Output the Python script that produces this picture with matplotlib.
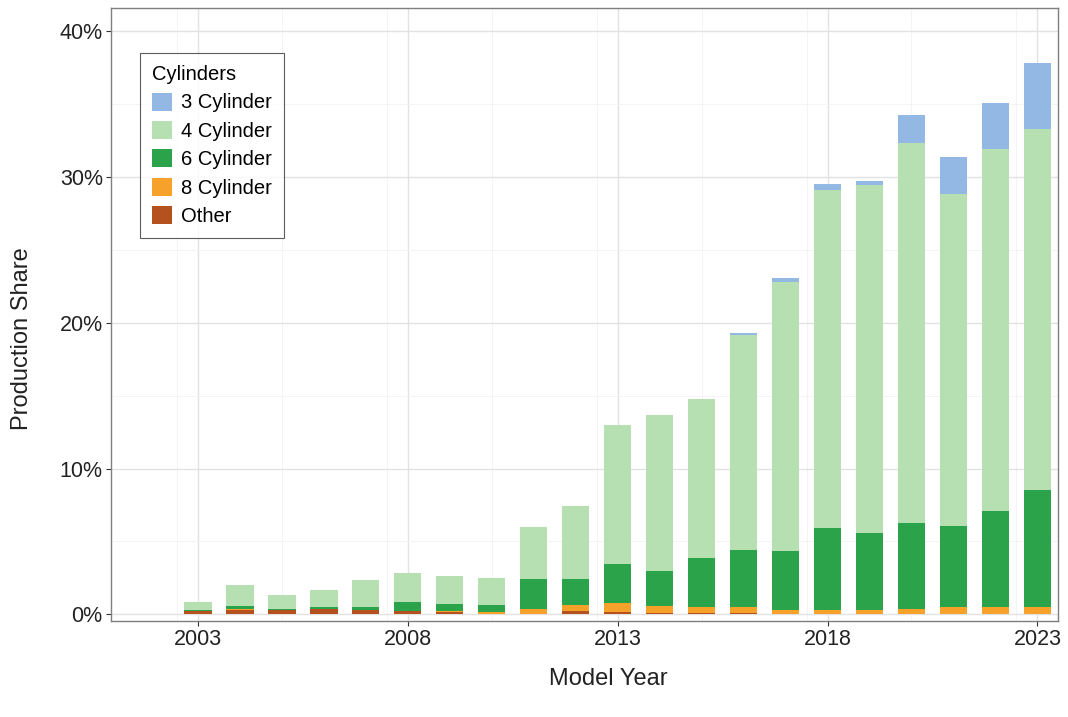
import matplotlib
matplotlib.use('Agg')
import matplotlib.pyplot as plt
import numpy as np
from matplotlib.ticker import FuncFormatter, MultipleLocator

plt.rcParams['font.family'] = ['Liberation Sans', 'DejaVu Sans']

# 数据 (百分比)
years = list(range(2003, 2024))
other = [0.20, 0.30, 0.28, 0.35, 0.28, 0.20, 0.13, 0.05, 0.05, 0.26, 0.15,
         0.10, 0.08, 0.08, 0.03, 0.02, 0.02, 0.02, 0.02, 0.02, 0.02]
cyl8 = [0.02, 0.05, 0.05, 0.03, 0.02, 0.05, 0.13, 0.10, 0.33, 0.39, 0.60,
        0.50, 0.45, 0.45, 0.27, 0.28, 0.28, 0.34, 0.51, 0.51, 0.51]
cyl6 = [0.08, 0.25, 0.05, 0.12, 0.23, 0.63, 0.46, 0.50, 2.03, 1.76, 2.69,
        2.38, 3.32, 3.89, 4.06, 5.60, 5.30, 5.94, 5.52, 6.57, 7.97]
cyl4 = [0.55, 1.40, 0.97, 1.15, 1.83, 1.95, 1.88, 1.83, 3.59, 4.99, 9.53,
        10.72, 10.90, 14.73, 18.44, 23.20, 23.85, 26.05, 22.75, 24.80, 24.80]
cyl3 = [0, 0, 0, 0, 0, 0, 0, 0, 0, 0, 0,
        0, 0, 0.15, 0.25, 0.40, 0.30, 1.90, 2.56, 3.15, 4.55]

labels = ['Other', '8 Cylinder', '6 Cylinder', '4 Cylinder', '3 Cylinder']
series = [other, cyl8, cyl6, cyl4, cyl3]
colors = ['#b4511f', '#f6a22a', '#2ba34b', '#b6dfb2', '#93b8e3']

fig = plt.figure(figsize=(10.68, 7.17), dpi=100)
ax = fig.add_axes([0.104, 0.134, 0.887, 0.855])

bottom = np.zeros(len(years))
handles = {}
for lab, vals, col in zip(labels, series, colors):
    vals = np.array(vals)
    b = ax.bar(years, vals, bottom=bottom, width=0.65, color=col, zorder=3)
    handles[lab] = b
    bottom += vals

ax.set_xlim(2000.93, 2023.5)
ax.set_ylim(-0.45, 41.6)
ax.yaxis.set_major_locator(MultipleLocator(10))
ax.yaxis.set_minor_locator(MultipleLocator(5))
ax.xaxis.set_minor_locator(MultipleLocator(2.5))
ax.set_xticks([2003, 2008, 2013, 2018, 2023])
ax.yaxis.set_major_formatter(FuncFormatter(lambda v, p: f'{v:.0f}%'))
ax.grid(True, which='major', color='#e2e2e2', linewidth=1.0, zorder=0)
ax.grid(True, which='minor', color='#f2f2f2', linewidth=0.6, zorder=0)
ax.tick_params(axis='both', which='major', labelsize=15.5, length=3.5,
               pad=2.5, color='#333333', labelcolor='#222222')
ax.tick_params(axis='both', which='minor', length=0)
ax.set_axisbelow(True)
for s in ax.spines.values():
    s.set_color('#7f7f7f')
    s.set_linewidth(1.0)

ax.set_xlabel('Model Year', fontsize=17, color='#222222')
ax.set_ylabel('Production Share', fontsize=17, color='#222222')
ax.xaxis.set_label_coords(0.525, -0.076)
ax.yaxis.set_label_coords(-0.082, 0.46)

order = ['3 Cylinder', '4 Cylinder', '6 Cylinder', '8 Cylinder', 'Other']
leg = ax.legend([handles[k] for k in order], order, title='Cylinders',
                loc='upper left', bbox_to_anchor=(140 / 1068, 1 - 53 / 717),
                bbox_transform=fig.transFigure, borderaxespad=0,
                fontsize=14.5, title_fontsize=14.5,
                frameon=True, fancybox=False, edgecolor='#333333',
                handlelength=1.0, handleheight=1.0, handletextpad=0.45,
                labelspacing=0.42, borderpad=0.6, alignment='left')
leg.get_frame().set_linewidth(0.8)

fig.savefig('out.png', dpi=100)
